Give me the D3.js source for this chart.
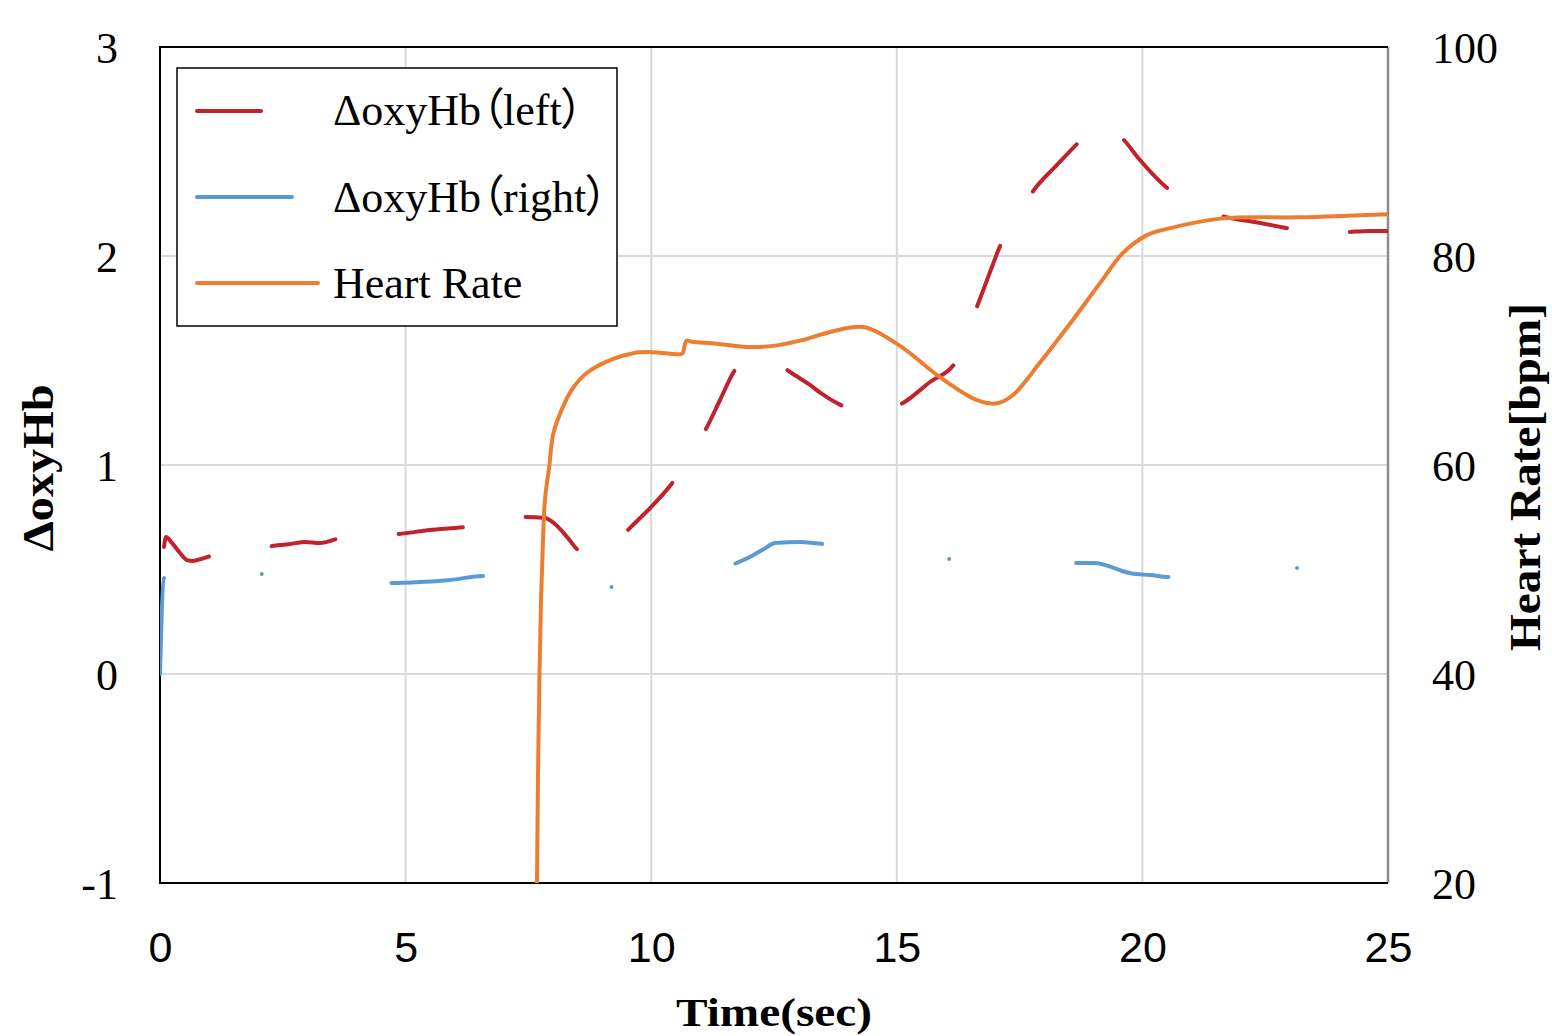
<!DOCTYPE html>
<html><head><meta charset="utf-8">
<script src="https://cdn.jsdelivr.net/npm/d3@7"></script>
<style>
html,body{margin:0;padding:0;background:#fff;}
svg{display:block;}
.serif{font-family:"Liberation Serif","Times New Roman",serif;}
.cjk{font-family:"Liberation Serif","Noto Sans CJK JP",serif;font-feature-settings:"palt";}
</style></head>
<body>
<svg id="chart" width="1552" height="1036"></svg>
<script>
// ---------- data ----------
const seriesNames = ["ΔoxyHb（left）", "ΔoxyHb（right）", "Heart Rate"];
const xTicks = [0, 5, 10, 15, 20, 25];
const leftTicks = [-1, 0, 1, 2, 3];
const rightTicks = [20, 40, 60, 80, 100];

const leftTime = [0.081,0.122,0.244,0.407,0.55,0.672,0.835,1.038,1.629,2.28,2.647,2.952,3.257,3.603,4.235,4.866,5.497,6.189,6.82,7.451,7.838,8.041,8.286,8.51,8.856,9.20,9.568,9.996,10.444,10.79,11.136,11.401,11.707,12.01,12.32,12.826,13.233,13.477,13.946,14.556,15.126,15.676,16.185,16.43,16.653,16.897,17.121,17.467,17.793,18.241,18.689,19.137,19.605,19.951,20.48,21.07,21.62,22.29,22.92,23.575,24.206,24.63,25.0];
const leftValues = [0.608,0.656,0.627,0.579,0.545,0.541,0.550,0.565,0.589,0.612,0.622,0.632,0.627,0.646,0.660,0.670,0.689,0.703,0.727,0.751,0.746,0.718,0.656,0.593,0.560,0.612,0.699,0.799,0.919,1.048,1.182,1.311,1.455,1.517,1.522,1.445,1.383,1.340,1.278,1.249,1.297,1.397,1.488,1.627,1.770,1.923,2.057,2.191,2.316,2.431,2.541,2.641,2.560,2.459,2.330,2.244,2.191,2.163,2.134,2.105,2.115,2.120,2.120];

const rightTime = [0,0.081,0.509,1.22,2.036,2.85,3.766,4.642,5.293,5.904,6.596,7.736,8.449,9.161,9.976,10.79,11.645,12.01,12.296,12.52,13.03,13.50,14.25,15.07,16.04,16.9,17.71,18.587,19.035,19.30,19.585,19.87,20.155,20.54,21.376,22.29,23.127,24.02,25.0];
const rightValues = [0,0.459,0.469,0.474,0.478,0.469,0.450,0.435,0.440,0.450,0.469,0.450,0.426,0.416,0.426,0.459,0.522,0.560,0.598,0.627,0.632,0.622,0.593,0.565,0.550,0.541,0.536,0.531,0.531,0.517,0.493,0.478,0.474,0.464,0.474,0.493,0.507,0.517,0.522];

const hrTime = [7.675,7.695,7.726,7.757,7.797,7.838,7.925,8.007,8.178,8.382,8.687,9.094,9.636,10.01,10.586,10.64,10.72,10.825,11.333,11.944,12.486,13.029,13.707,14.318,15.065,15.879,16.633,17.04,17.366,17.915,18.587,19.137,19.605,20.094,20.5,21.64,23.21,25.0];
const hrValues = [20,29.9,40.0,47.1,52.8,56.7,59.9,63.0,65.3,67.2,68.8,69.9,70.7,70.8,70.6,70.7,71.9,71.8,71.6,71.3,71.4,71.9,72.8,73.2,71.4,68.4,66.2,65.9,66.7,69.8,73.9,77.4,80.3,82.0,82.6,83.6,83.7,84.0];

// ---------- layout ----------
const W = 1552, H = 1036;
const plot = {left:160, right:1388, top:47, bottom:883};
const colors = {left:"#C0232B", right:"#5B9BD5", hr:"#ED7D31", grid:"#D9D9D9"};

const svg = d3.select("#chart");
const x = d3.scaleLinear().domain([0,25]).range([plot.left, plot.right]);
const yL = d3.scaleLinear().domain([-1,3]).range([plot.bottom, plot.top]);
const yR = d3.scaleLinear().domain([20,100]).range([plot.bottom, plot.top]);

svg.append("rect").attr("width",W).attr("height",H).attr("fill","#fff");

// gridlines
const grid = svg.append("g");
grid.selectAll("line.v").data(xTicks.filter(d=>d>0 && d<25)).join("line")
  .attr("x1",d=>x(d)).attr("x2",d=>x(d)).attr("y1",plot.top).attr("y2",plot.bottom)
  .attr("stroke",colors.grid).attr("stroke-width",2);
grid.selectAll("line.h").data(leftTicks.filter(d=>d>-1 && d<3)).join("line")
  .attr("x1",plot.left).attr("x2",plot.right).attr("y1",d=>yL(d)).attr("y2",d=>yL(d))
  .attr("stroke",colors.grid).attr("stroke-width",2);

// plot frame
svg.append("line").attr("x1",plot.right).attr("x2",plot.right).attr("y1",plot.top).attr("y2",plot.bottom)
  .attr("stroke","#8c8c8c").attr("stroke-width",2.5);
svg.append("path")
  .attr("d",`M${plot.right},${plot.top}H${plot.left}V${plot.bottom}H${plot.right}`)
  .attr("fill","none").attr("stroke","#000").attr("stroke-width",2);

const fmt = d => String(d);

// axes
const gx = svg.append("g").attr("transform",`translate(0,${plot.bottom})`)
  .call(d3.axisBottom(x).tickValues(xTicks).tickSize(0).tickPadding(0).tickFormat(fmt));
gx.select(".domain").remove();
gx.selectAll("text").attr("y",79).attr("dy",0)
  .style("font-family","'Liberation Sans',Arial,sans-serif").style("font-size","43px").attr("fill","#000");

const gl = svg.append("g").attr("transform",`translate(${plot.left},0)`)
  .call(d3.axisLeft(yL).tickValues(leftTicks).tickSize(0).tickPadding(0).tickFormat(fmt));
gl.select(".domain").remove();
gl.selectAll("text").attr("x",-42).attr("dy","0.36em")
  .style("font-family","'Liberation Serif','Times New Roman',serif").style("font-size","44px").attr("fill","#000");

const gr = svg.append("g").attr("transform",`translate(${plot.right},0)`)
  .call(d3.axisRight(yR).tickValues(rightTicks).tickSize(0).tickPadding(0).tickFormat(fmt));
gr.select(".domain").remove();
gr.selectAll("text").attr("x",44).attr("dy","0.36em")
  .style("font-family","'Liberation Serif','Times New Roman',serif").style("font-size","44px").attr("fill","#000");

// axis titles
svg.append("text").attr("class","serif")
  .attr("transform","translate(53,468) rotate(-90)")
  .attr("text-anchor","middle").attr("font-weight","bold").attr("font-size",44)
  .attr("textLength",167).attr("lengthAdjust","spacingAndGlyphs")
  .text("ΔoxyHb");
svg.append("text").attr("class","serif")
  .attr("transform","translate(1540,477) rotate(-90)")
  .attr("text-anchor","middle").attr("font-weight","bold").attr("font-size",44)
  .attr("textLength",348).attr("lengthAdjust","spacingAndGlyphs")
  .text("Heart Rate[bpm]");
svg.append("text").attr("class","serif")
  .attr("x",774).attr("y",1026)
  .attr("text-anchor","middle").attr("font-weight","bold").attr("font-size",40)
  .attr("textLength",196).attr("lengthAdjust","spacingAndGlyphs")
  .text("Time(sec)");

// clip
svg.append("clipPath").attr("id","clip").append("rect")
  .attr("x",plot.left).attr("y",plot.top).attr("width",plot.right-plot.left).attr("height",plot.bottom-plot.top);

const lines = svg.append("g").attr("clip-path","url(#clip)");
const lineL = d3.line().x(d=>x(d[0])).y(d=>yL(d[1])).curve(d3.curveMonotoneX);
const lineR = d3.line().x(d=>x(d[0])).y(d=>yR(d[1])).curve(d3.curveCatmullRom.alpha(0.5));

const leftData = leftTime.map((t,i)=>[t,leftValues[i]]);
const rightData = rightTime.map((t,i)=>[t,rightValues[i]]);
const hrData = hrTime.map((t,i)=>[t,hrValues[i]]);

lines.append("path").datum(leftData).attr("d",lineL)
  .attr("fill","none").attr("stroke",colors.left).attr("stroke-width",4)
  .attr("stroke-linecap","round").attr("stroke-linejoin","round")
  .attr("stroke-dasharray","64.5 63.6");
lines.append("path").datum(rightData).attr("d",lineL)
  .attr("fill","none").attr("stroke",colors.right).attr("stroke-width",4)
  .attr("stroke-linecap","round").attr("stroke-linejoin","round")
  .attr("stroke-dasharray","96 98 0 130 92 129 0 127 92 128 0 127 94 129 0 1000");
lines.append("path").datum(hrData).attr("d",lineR)
  .attr("fill","none").attr("stroke",colors.hr).attr("stroke-width",4)
  .attr("stroke-linecap","round").attr("stroke-linejoin","round");

// legend
const leg = svg.append("g");
leg.append("rect").attr("x",177).attr("y",68).attr("width",440).attr("height",258)
  .attr("fill","#fff").attr("stroke","#000").attr("stroke-width",1.5);
const legItems = [
  {name:seriesNames[0], color:colors.left, len:64, y:111, ty:125},
  {name:seriesNames[1], color:colors.right, len:95, y:197, ty:212},
  {name:seriesNames[2], color:colors.hr, len:121, y:283, ty:298}
];
leg.selectAll("line.s").data(legItems).join("line")
  .attr("x1",197).attr("x2",d=>197+d.len).attr("y1",d=>d.y).attr("y2",d=>d.y)
  .attr("stroke",d=>d.color).attr("stroke-width",4).attr("stroke-linecap","round");
leg.selectAll("text.s").data(legItems).join("text")
  .attr("class","cjk").attr("x",333).attr("y",d=>d.ty).attr("font-size",44).attr("fill","#000")
  .text(d=>d.name);
</script>
</body></html>
